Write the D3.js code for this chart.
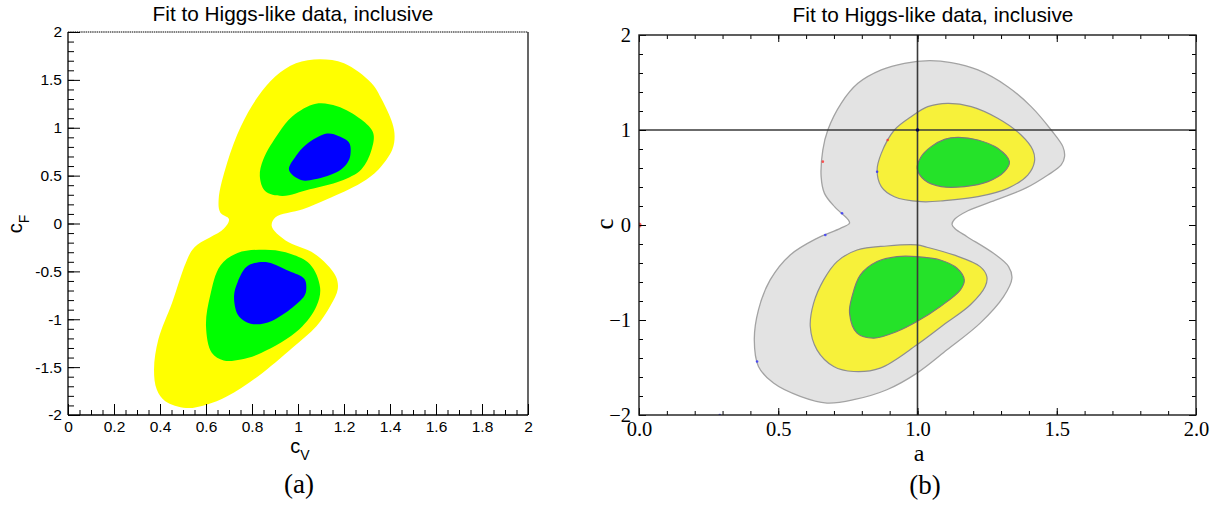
<!DOCTYPE html>
<html><head><meta charset="utf-8">
<script src="https://cdn.jsdelivr.net/npm/d3@7"></script>
<style>body{margin:0;background:#fff}svg{display:block}</style>
</head><body>
<svg id="chart" width="1214" height="506"></svg>
<script>
// ---------------- DATA ----------------
const titleText = "Fit to Higgs-like data, inclusive";
const captionA = "(a)";
const captionB = "(b)";

// Panel (a): c_V vs c_F
const leftXTicks = [0, 0.2, 0.4, 0.6, 0.8, 1, 1.2, 1.4, 1.6, 1.8, 2];
const leftXLabels = ["0","0.2","0.4","0.6","0.8","1","1.2","1.4","1.6","1.8","2"];
const leftYTicks = [-2, -1.5, -1, -0.5, 0, 0.5, 1, 1.5, 2];
const leftYLabels = ["-2","-1.5","-1","-0.5","0","0.5","1","1.5","2"];

// 95% (yellow) region, both lobes joined by a neck
const leftYellow = [[1.096,1.716],[1.2,1.674],[1.32,1.466],[1.365,1.293],[1.41,1.05],[1.42,0.912],[1.41,0.773],[1.35,0.565],[1.275,0.426],[1.126,0.253],[1.021,0.149],[0.901,0.063],[0.886,-0.03],[0.946,-0.178],[1.073,-0.318],[1.163,-0.545],[1.173,-0.685],[1.141,-0.86],[1.081,-1.07],[0.976,-1.297],[0.827,-1.594],[0.692,-1.804],[0.602,-1.892],[0.513,-1.927],[0.423,-1.857],[0.386,-1.734],[0.374,-1.524],[0.393,-1.21],[0.453,-0.825],[0.513,-0.406],[0.55,-0.248],[0.677,-0.056],[0.7,0.045],[0.662,0.114],[0.655,0.253],[0.692,0.634],[0.752,1.016],[0.827,1.328],[0.901,1.535],[0.991,1.674]];
const leftGreenUpper = [[1.078,1.251],[1.17,1.224],[1.275,1.085],[1.327,0.946],[1.32,0.773],[1.275,0.565],[1.185,0.444],[1.051,0.357],[0.931,0.288],[0.857,0.34],[0.834,0.496],[0.849,0.669],[0.916,0.946],[0.976,1.12]];
const leftBlueUpper = [[1.126,0.939],[1.178,0.912],[1.223,0.842],[1.227,0.704],[1.215,0.634],[1.178,0.548],[1.073,0.461],[1.013,0.454],[0.961,0.558],[0.991,0.704],[1.036,0.825]];
const leftGreenLower = [[0.737,-0.308],[0.857,-0.273],[0.946,-0.301],[1.051,-0.423],[1.096,-0.668],[1.081,-0.86],[1.006,-1.105],[0.842,-1.35],[0.752,-1.42],[0.677,-1.43],[0.625,-1.35],[0.6,-1.07],[0.618,-0.755],[0.662,-0.44]];
const leftBlueLower = [[0.871,-0.406],[0.961,-0.497],[1.028,-0.58],[1.036,-0.685],[1.028,-0.755],[0.976,-0.878],[0.886,-1.017],[0.819,-1.052],[0.774,-1.028],[0.737,-0.948],[0.722,-0.755],[0.737,-0.615],[0.774,-0.458],[0.811,-0.413]];

// Panel (b): a vs c
const rightXTicks = [0, 0.5, 1, 1.5, 2];
const rightXLabels = ["0.0","0.5","1.0","1.5","2.0"];
const rightYTicks = [-2, -1, 0, 1, 2];
const rightYLabels = ["\u22122","\u22121","0","1","2"];
const rightRefA = 1;   // vertical reference line a = 1
const rightRefC = 1;   // horizontal reference line c = 1

const rightGray = [[1.043,1.73],[1.121,1.709],[1.217,1.632],[1.324,1.456],[1.408,1.246],[1.48,1.0],[1.522,0.825],[1.528,0.719],[1.516,0.632],[1.468,0.526],[1.39,0.39],[1.265,0.245],[1.181,0.15],[1.133,0.06],[1.124,0.005],[1.135,-0.04],[1.178,-0.123],[1.273,-0.298],[1.327,-0.438],[1.339,-0.56],[1.309,-0.754],[1.225,-1.033],[1.106,-1.314],[0.998,-1.559],[0.89,-1.734],[0.771,-1.839],[0.675,-1.874],[0.579,-1.804],[0.483,-1.664],[0.429,-1.489],[0.414,-1.209],[0.429,-0.893],[0.471,-0.578],[0.543,-0.315],[0.639,-0.14],[0.723,-0.035],[0.756,0.02],[0.75,0.06],[0.702,0.193],[0.666,0.333],[0.654,0.509],[0.66,0.789],[0.678,1.0],[0.726,1.281],[0.786,1.491],[0.87,1.632],[0.953,1.702]];
const rightYellowUpper = [[1.109,1.281],[1.193,1.246],[1.288,1.123],[1.372,0.947],[1.414,0.789],[1.42,0.667],[1.396,0.526],[1.324,0.386],[1.217,0.298],[1.097,0.256],[1.013,0.246],[0.917,0.298],[0.87,0.404],[0.855,0.579],[0.87,0.754],[0.917,1.0],[0.977,1.14],[1.037,1.246]];
const rightGreenUpper = [[1.145,0.923],[1.217,0.895],[1.288,0.807],[1.33,0.667],[1.312,0.561],[1.253,0.456],[1.169,0.404],[1.085,0.404],[1.025,0.474],[0.999,0.596],[1.013,0.719],[1.049,0.825],[1.097,0.902]];
const rightYellowLower = [[0.998,-0.21],[1.034,-0.234],[1.13,-0.315],[1.225,-0.438],[1.249,-0.543],[1.243,-0.648],[1.19,-0.84],[1.094,-1.051],[0.998,-1.261],[0.866,-1.506],[0.771,-1.542],[0.699,-1.489],[0.639,-1.314],[0.615,-1.069],[0.627,-0.823],[0.663,-0.578],[0.711,-0.385],[0.783,-0.263],[0.89,-0.221]];
const rightGreenLower = [[0.998,-0.333],[1.082,-0.368],[1.142,-0.455],[1.168,-0.578],[1.154,-0.683],[1.082,-0.858],[0.998,-1.016],[0.926,-1.121],[0.842,-1.191],[0.783,-1.138],[0.756,-0.928],[0.765,-0.753],[0.795,-0.525],[0.855,-0.385],[0.926,-0.333]];
const rightRedSpecks = [[0,0],[0.893,0.895],[0.66,0.667]];
const rightBlueSpecks = [[0.855,0.561],[0.729,0.123],[0.669,-0.105],[0.424,-1.437],[0.29,-2.0]];
const rightDarkSpecks = [[1,1]];

// ---------------- DRAW ----------------
const svg = d3.select("#chart");
const SANS = "'Liberation Sans', Arial, Helvetica, sans-serif";
const SERIF = "'Liberation Serif', 'Times New Roman', Times, serif";

function styleAxis(g, font, size) {
  g.select(".domain").remove();
  g.selectAll(".tick line").attr("stroke", "#000").attr("stroke-width", 1);
  g.selectAll(".tick text").attr("font-family", font).attr("font-size", size).attr("fill", "#000");
}

// ===== Panel (a) =====
const xL = d3.scaleLinear().domain([0, 2]).range([68, 528]);
const yL = d3.scaleLinear().domain([-2, 2]).range([415, 32]);
const smooth = d3.curveCatmullRomClosed.alpha(0.5);
const lineL = d3.line().x(d => xL(d[0])).y(d => yL(d[1])).curve(smooth);

const gA = svg.append("g");
gA.append("path").attr("d", lineL(leftYellow)).attr("fill", "#ffff00");
gA.append("path").attr("d", lineL(leftGreenUpper)).attr("fill", "#00ff00");
gA.append("path").attr("d", lineL(leftGreenLower)).attr("fill", "#00ff00");
gA.append("path").attr("d", lineL(leftBlueUpper)).attr("fill", "#0000ff");
gA.append("path").attr("d", lineL(leftBlueLower)).attr("fill", "#0000ff");

// minor + major ticks (inward)
gA.append("g").attr("transform", `translate(0,${yL(-2)})`)
  .call(d3.axisBottom(xL).tickValues(d3.range(0, 2.001, 0.05)).tickSize(-5).tickFormat(""))
  .call(g => styleAxis(g, SANS, 15));
gA.append("g").attr("transform", `translate(0,${yL(-2)})`)
  .call(d3.axisBottom(xL).tickValues(leftXTicks).tickSize(-11).tickPadding(6).tickFormat((d, i) => leftXLabels[i]))
  .call(g => styleAxis(g, SANS, 15.5));
gA.append("g").attr("transform", `translate(${xL(0)},0)`)
  .call(d3.axisLeft(yL).tickValues(d3.range(-2, 2.001, 0.1)).tickSize(-6).tickFormat(""))
  .call(g => styleAxis(g, SANS, 15));
gA.append("g").attr("transform", `translate(${xL(0)},0)`)
  .call(d3.axisLeft(yL).tickValues(leftYTicks).tickSize(-12).tickPadding(6).tickFormat((d, i) => leftYLabels[i]))
  .call(g => styleAxis(g, SANS, 15.5));

// frame
gA.append("line").attr("x1", xL(0)).attr("x2", xL(2)).attr("y1", yL(2)).attr("y2", yL(2))
  .attr("stroke", "#000").attr("stroke-width", 1).attr("stroke-dasharray", "1.5,0.7");
gA.append("line").attr("x1", xL(2)).attr("x2", xL(2)).attr("y1", yL(2)).attr("y2", yL(-2))
  .attr("stroke", "#000").attr("stroke-width", 1.2);
gA.append("line").attr("x1", xL(0)).attr("x2", xL(2)).attr("y1", yL(-2)).attr("y2", yL(-2))
  .attr("stroke", "#000").attr("stroke-width", 1.3);
gA.append("line").attr("x1", xL(0)).attr("x2", xL(0)).attr("y1", yL(2)).attr("y2", yL(-2))
  .attr("stroke", "#000").attr("stroke-width", 1.3);

// titles & labels
gA.append("text").attr("x", 293).attr("y", 21).attr("text-anchor", "middle")
  .attr("font-family", SANS).attr("font-size", 20.8).text(titleText);
const xt = gA.append("text").attr("x", 300).attr("y", 453).attr("text-anchor", "middle")
  .attr("font-family", SANS).attr("font-size", 20);
xt.append("tspan").text("c");
xt.append("tspan").attr("font-size", 14).attr("dy", 7).text("V");
const yt = gA.append("text").attr("transform", "translate(22,224) rotate(-90)").attr("text-anchor", "middle")
  .attr("font-family", SANS).attr("font-size", 20);
yt.append("tspan").text("c");
yt.append("tspan").attr("font-size", 14).attr("dy", 7).text("F");
gA.append("text").attr("x", 299).attr("y", 493).attr("text-anchor", "middle")
  .attr("font-family", SERIF).attr("font-size", 27).text(captionA);

// ===== Panel (b) =====
const xR = d3.scaleLinear().domain([0, 2]).range([639, 1196]);
const yR = d3.scaleLinear().domain([-2, 2]).range([415, 35]);
const lineR = d3.line().x(d => xR(d[0])).y(d => yR(d[1])).curve(smooth);

const defs = svg.append("defs");
defs.append("clipPath").attr("id", "clipR").append("rect")
  .attr("x", xR(0)).attr("y", yR(2)).attr("width", xR(2) - xR(0)).attr("height", yR(-2) - yR(2));

const gB = svg.append("g");
const plotB = gB.append("g").attr("clip-path", "url(#clipR)");
const cStroke = "#8f8f8f";
plotB.append("path").attr("d", lineR(rightGray)).attr("fill", "#e3e3e3").attr("stroke", "#a3a3a3").attr("stroke-width", 1.3);
plotB.append("path").attr("d", lineR(rightYellowUpper)).attr("fill", "#f7f13a").attr("stroke", cStroke).attr("stroke-width", 1.2);
plotB.append("path").attr("d", lineR(rightYellowLower)).attr("fill", "#f7f13a").attr("stroke", cStroke).attr("stroke-width", 1.2);
plotB.append("path").attr("d", lineR(rightGreenUpper)).attr("fill", "#25e229").attr("stroke", "#7a7a7a").attr("stroke-width", 1.2);
plotB.append("path").attr("d", lineR(rightGreenLower)).attr("fill", "#25e229").attr("stroke", "#7a7a7a").attr("stroke-width", 1.2);

// reference lines
plotB.append("line").attr("x1", xR(rightRefA)).attr("x2", xR(rightRefA)).attr("y1", yR(2)).attr("y2", yR(-2))
  .attr("stroke", "#3a3a3a").attr("stroke-width", 1.6);
plotB.append("line").attr("x1", xR(0)).attr("x2", xR(2)).attr("y1", yR(rightRefC)).attr("y2", yR(rightRefC))
  .attr("stroke", "#3a3a3a").attr("stroke-width", 1.6);

// specks
plotB.selectAll(".rs").data(rightRedSpecks).join("circle").attr("class", "rs")
  .attr("cx", d => xR(d[0])).attr("cy", d => yR(d[1])).attr("r", (d, i) => i === 0 ? 2.6 : 1.3).attr("fill", "#ff3030").attr("opacity", 0.8);
plotB.selectAll(".bs").data(rightBlueSpecks).join("circle").attr("class", "bs")
  .attr("cx", d => xR(d[0])).attr("cy", d => yR(d[1])).attr("r", 1.3).attr("fill", "#3030ff").attr("opacity", 0.8);
plotB.selectAll(".ds").data(rightDarkSpecks).join("circle").attr("class", "ds")
  .attr("cx", d => xR(d[0])).attr("cy", d => yR(d[1])).attr("r", 1.8).attr("fill", "#000050");

// ticks (inward, all four sides)
const minorX = d3.range(0, 2.001, 0.1), minorY = d3.range(-2, 2.001, 0.2);
gB.append("g").attr("transform", `translate(0,${yR(-2)})`)
  .call(d3.axisBottom(xR).tickValues(minorX).tickSize(-4).tickFormat(""))
  .call(g => styleAxis(g, SERIF, 20.5));
gB.append("g").attr("transform", `translate(0,${yR(-2)})`)
  .call(d3.axisBottom(xR).tickValues(rightXTicks).tickSize(-7).tickPadding(6).tickFormat((d, i) => rightXLabels[i]))
  .call(g => styleAxis(g, SERIF, 20.5));
gB.append("g").attr("transform", `translate(0,${yR(2)})`)
  .call(d3.axisTop(xR).tickValues(minorX).tickSize(-4).tickFormat(""))
  .call(g => styleAxis(g, SERIF, 20.5));
gB.append("g").attr("transform", `translate(0,${yR(2)})`)
  .call(d3.axisTop(xR).tickValues(rightXTicks).tickSize(-7).tickFormat(""))
  .call(g => styleAxis(g, SERIF, 20.5));
gB.append("g").attr("transform", `translate(${xR(0)},0)`)
  .call(d3.axisLeft(yR).tickValues(minorY).tickSize(-4).tickFormat(""))
  .call(g => styleAxis(g, SERIF, 20.5));
gB.append("g").attr("transform", `translate(${xR(0)},0)`)
  .call(d3.axisLeft(yR).tickValues(rightYTicks).tickSize(-7).tickPadding(8).tickFormat((d, i) => rightYLabels[i]))
  .call(g => styleAxis(g, SERIF, 20.5));
gB.append("g").attr("transform", `translate(${xR(2)},0)`)
  .call(d3.axisRight(yR).tickValues(minorY).tickSize(-4).tickFormat(""))
  .call(g => styleAxis(g, SERIF, 20.5));
gB.append("g").attr("transform", `translate(${xR(2)},0)`)
  .call(d3.axisRight(yR).tickValues(rightYTicks).tickSize(-7).tickFormat(""))
  .call(g => styleAxis(g, SERIF, 20.5));

gB.append("rect").attr("x", xR(0)).attr("y", yR(2)).attr("width", xR(2) - xR(0)).attr("height", yR(-2) - yR(2))
  .attr("fill", "none").attr("stroke", "#1a1a1a").attr("stroke-width", 1.4);

gB.append("text").attr("x", 933).attr("y", 22).attr("text-anchor", "middle")
  .attr("font-family", SANS).attr("font-size", 20.8).text(titleText);
gB.append("text").attr("x", 919).attr("y", 461).attr("text-anchor", "middle")
  .attr("font-family", SERIF).attr("font-size", 24).text("a");
gB.append("text").attr("transform", "translate(613,224) rotate(-90)").attr("text-anchor", "middle")
  .attr("font-family", SERIF).attr("font-size", 25).text("c");
gB.append("text").attr("x", 925).attr("y", 494).attr("text-anchor", "middle")
  .attr("font-family", SERIF).attr("font-size", 27).text(captionB);
</script>
</body></html>
